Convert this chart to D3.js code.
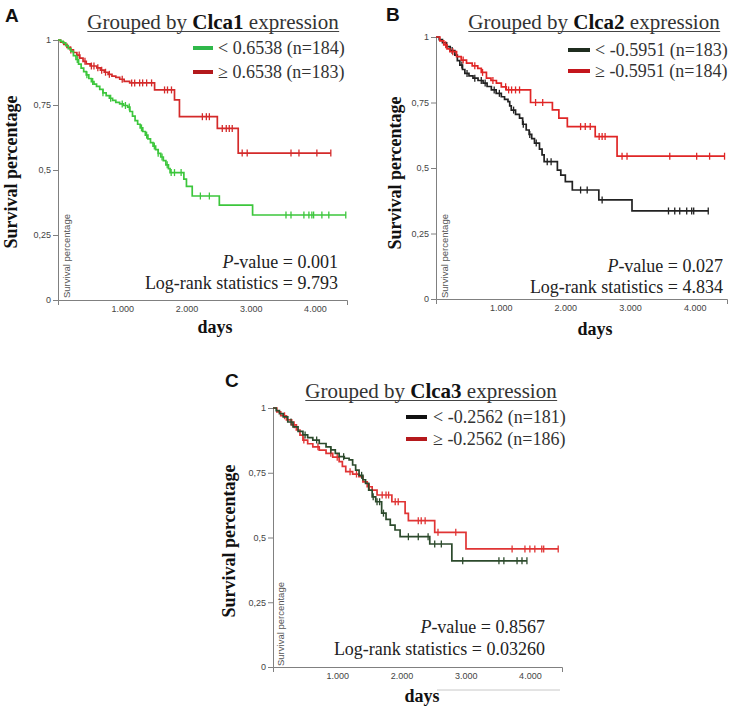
<!DOCTYPE html>
<html><head><meta charset="utf-8">
<script src="https://cdn.jsdelivr.net/npm/d3@7"></script>
<style>body{margin:0;background:#fff}svg{display:block}</style>
</head><body>
<script>
// ---------- DATA ----------
const xTicks = [1000, 2000, 3000, 4000];
const xTickLabels = ["1.000", "2.000", "3.000", "4.000"];
const yTicks = [0, 0.25, 0.5, 0.75, 1];
const yTickLabels = ["0", "0,25", "0,5", "0,75", "1"];
const panelLetters = ["A", "B", "C"];
const genes = ["Clca1", "Clca2", "Clca3"];
const lowLabels = ["< 0.6538 (n=184)", "< -0.5951 (n=183)", "< -0.2562 (n=181)"];
const highLabels = ["\u2265 0.6538 (n=183)", "\u2265 -0.5951 (n=184)", "\u2265 -0.2562 (n=186)"];
const pValues = ["0.001", "0.027", "0.8567"];
const logRankStats = ["9.793", "4.834", "0.03260"];

// Kaplan-Meier steps [day, survival]
const clca1LowSteps = [[0,1],[40,0.995],[80,0.989],[120,0.978],[160,0.967],[200,0.956],[240,0.94],[280,0.925],[320,0.907],[360,0.892],[400,0.878],[440,0.866],[480,0.852],[520,0.84],[560,0.83],[600,0.822],[650,0.81],[700,0.797],[750,0.786],[800,0.776],[850,0.768],[900,0.76],[960,0.754],[1020,0.748],[1085,0.742],[1120,0.725],[1160,0.707],[1200,0.69],[1240,0.676],[1280,0.662],[1320,0.648],[1360,0.634],[1400,0.62],[1440,0.605],[1480,0.592],[1520,0.578],[1560,0.564],[1600,0.55],[1640,0.536],[1680,0.52],[1720,0.505],[1745,0.49],[1960,0.465],[2000,0.437],[2090,0.4],[2512,0.365],[3030,0.327],[4481,0.327]];
const clca1LowCensor = [300,450,540,700,820,1000,1050,1110,1300,1380,1500,1560,1620,1700,1762,1814,1917,2217,2357,3550,3628,3829,3907,3953,3980,4109,4217,4481];
const clca1HighSteps = [[0,1],[40,0.992],[90,0.983],[140,0.972],[190,0.962],[240,0.952],[294,0.942],[340,0.93],[390,0.918],[440,0.908],[500,0.9],[604,0.893],[660,0.884],[720,0.876],[780,0.868],[840,0.861],[900,0.856],[961,0.849],[1030,0.841],[1116,0.835],[1504,0.808],[1814,0.77],[1891,0.705],[2481,0.66],[2806,0.565],[4248,0.565]];
const clca1HighCensor = [200,330,420,520,560,620,680,740,800,1000,1147,1194,1271,1318,1380,1457,1659,1705,1767,2248,2310,2357,2558,2620,2667,2713,2868,2946,3628,3752,4031,4248];

const clca2LowSteps = [[0,1],[50,0.99],[100,0.978],[164,0.963],[220,0.948],[292,0.931],[330,0.91],[369,0.893],[410,0.876],[446,0.861],[510,0.852],[572,0.843],[650,0.834],[728,0.824],[790,0.811],[856,0.798],[930,0.785],[1010,0.772],[1060,0.762],[1113,0.753],[1140,0.737],[1164,0.721],[1230,0.705],[1292,0.69],[1340,0.667],[1395,0.645],[1440,0.628],[1480,0.612],[1523,0.595],[1600,0.572],[1640,0.55],[1672,0.524],[1877,0.492],[1930,0.473],[2000,0.448],[2108,0.416],[2518,0.378],[3031,0.336],[4210,0.336]];
const clca2LowCensor = [250,400,480,600,700,760,900,980,1200,1350,1450,1550,1720,1780,2236,2338,2569,3595,3692,3769,3877,3954,3985,4210];
const clca2HighSteps = [[0,1],[60,0.985],[120,0.97],[170,0.955],[215,0.944],[318,0.925],[390,0.912],[472,0.9],[560,0.89],[646,0.88],[700,0.865],[780,0.843],[850,0.834],[934,0.824],[1010,0.81],[1087,0.798],[1462,0.75],[1800,0.722],[1900,0.69],[2031,0.658],[2462,0.62],[2800,0.545],[4462,0.545]];
const clca2HighCensor = [150,260,420,600,720,880,1077,1123,1169,1230,1292,1540,1650,2236,2308,2385,2523,2569,2615,2877,2954,3615,4031,4231,4462];

const clca3LowSteps = [[0,1],[50,0.99],[100,0.978],[159,0.966],[230,0.946],[312,0.927],[390,0.91],[466,0.896],[540,0.886],[620,0.876],[720,0.863],[826,0.85],[900,0.838],[970,0.825],[1030,0.812],[1110,0.806],[1185,0.8],[1240,0.78],[1287,0.76],[1340,0.74],[1400,0.723],[1441,0.709],[1490,0.683],[1544,0.657],[1600,0.638],[1692,0.594],[1760,0.57],[1826,0.548],[1900,0.529],[1979,0.503],[2441,0.475],[2785,0.41],[3954,0.41]];
const clca3LowCensor = [280,500,680,900,1100,1380,1560,1620,1660,1720,2108,2262,2415,2518,2621,2954,3518,3595,3800,3877,3954];
const clca3HighSteps = [[0,1],[60,0.985],[120,0.97],[210,0.954],[290,0.935],[364,0.915],[420,0.895],[466,0.876],[540,0.862],[620,0.85],[720,0.837],[826,0.825],[930,0.81],[1030,0.793],[1080,0.775],[1133,0.754],[1240,0.745],[1338,0.735],[1400,0.715],[1467,0.696],[1544,0.683],[1620,0.664],[1851,0.638],[2057,0.593],[2108,0.565],[2518,0.52],[3005,0.456],[4441,0.456]];
const clca3HighCensor = [180,330,480,700,900,1000,1200,1300,1500,1700,1760,1800,1903,1950,2262,2308,2369,2569,2846,3723,3923,4000,4077,4185,4215,4441];

const lowColors = ["#3cc63c", "#222222", "#2c4a2c"];
const lowLegendColors = ["#2fb84a", "#1f2d1f", "#111111"];
const highColors = ["#d42a2a", "#e02626", "#e03434"];
const highLegendColors = ["#b3191c", "#c4161c", "#b5191c"];

// ---------- LAYOUT ----------
const layouts = [
  {x0:58, x1:347, yT:40, yB:300, titleX:213, titleY:29, legX1:193, legX2:213, legY:[48,72], legTX:218,
   statX:338, statY:[268,289], ylabX:17, ylabY:172, innerX:70, innerY:298, daysX:215, daysY:333, letX:5, letY:22},
  {x0:436, x1:727, yT:37, yB:299, titleX:594, titleY:29, legX1:568, legX2:590, legY:[50,71], legTX:595,
   statX:723, statY:[272,293], ylabX:401, ylabY:173, innerX:448, innerY:298, daysX:595, daysY:335, letX:386, letY:21},
  {x0:273, x1:562, yT:408, yB:667, titleX:431, titleY:398, legX1:406, legX2:427, legY:[417,439], legTX:433,
   statX:545, statY:[633,655], ylabX:235, ylabY:541, innerX:284, innerY:666, daysX:422, daysY:702, letX:225, letY:387}
];
const stepsLow = [clca1LowSteps, clca2LowSteps, clca3LowSteps];
const stepsHigh = [clca1HighSteps, clca2HighSteps, clca3HighSteps];
const censLow = [clca1LowCensor, clca2LowCensor, clca3LowCensor];
const censHigh = [clca1HighCensor, clca2HighCensor, clca3HighCensor];

const svg = d3.select("body").append("svg").attr("width", 736).attr("height", 707);
const serif = "'Liberation Serif', 'Times New Roman', serif";
const sans = "'Liberation Sans', Arial, sans-serif";

function survAt(steps, t) {
  let s = 1;
  for (const [d, v] of steps) { if (d <= t) s = v; else break; }
  return s;
}

layouts.forEach((L, i) => {
  const g = svg.append("g");
  const x = d3.scaleLinear().domain([0, 4500]).range([L.x0, L.x1]);
  const y = d3.scaleLinear().domain([0, 1]).range([L.yB, L.yT]);

  // axes
  const xa = g.append("g").attr("transform", `translate(0,${L.yB})`)
    .call(d3.axisBottom(x).tickValues(xTicks).tickFormat((d, k) => xTickLabels[k])
      .tickSizeInner(0).tickSizeOuter(5).tickPadding(6));
  const ya = g.append("g").attr("transform", `translate(${L.x0},0)`)
    .call(d3.axisLeft(y).tickValues(yTicks).tickFormat((d, k) => yTickLabels[k])
      .tickSizeInner(5).tickSizeOuter(5).tickPadding(2));
  [xa, ya].forEach(a => {
    a.selectAll("path,line").attr("stroke", "#808080");
    a.selectAll("text").attr("fill", "#444").style("font-family", sans).style("font-size", "9px");
  });

  // inner small axis label
  g.append("text").attr("transform", `translate(${L.innerX},${L.innerY}) rotate(-90)`)
    .attr("fill", "#555").style("font-family", sans).style("font-size", "9.5px").text("Survival percentage");

  // curves
  const line = d3.line().x(d => x(d[0])).y(d => y(d[1])).curve(d3.curveStepAfter);
  const series = [
    {steps: stepsLow[i], cens: censLow[i], color: lowColors[i]},
    {steps: stepsHigh[i], cens: censHigh[i], color: highColors[i]}
  ];
  if (i !== 1) series.reverse(); // draw order
  series.forEach(s => {
    g.append("path").datum(s.steps).attr("d", line).attr("fill", "none")
      .attr("stroke", s.color).attr("stroke-width", 1.7);
    g.selectAll(null).data(s.cens).enter().append("line")
      .attr("x1", d => x(d)).attr("x2", d => x(d))
      .attr("y1", d => y(survAt(s.steps, d)) - 3.5).attr("y2", d => y(survAt(s.steps, d)) + 3.5)
      .attr("stroke", s.color).attr("stroke-width", 1.3);
  });

  // title with underline
  const t = g.append("text").attr("x", L.titleX).attr("y", L.titleY).attr("text-anchor", "middle")
    .attr("fill", "#333").style("font-family", serif).style("font-size", "21px");
  t.append("tspan").text("Grouped by ");
  t.append("tspan").attr("font-weight", "bold").attr("fill", "#111").text(genes[i]);
  t.append("tspan").text(" expression");
  const bb = t.node().getBBox();
  g.append("line").attr("x1", bb.x).attr("x2", bb.x + bb.width)
    .attr("y1", L.titleY + 2.5).attr("y2", L.titleY + 2.5).attr("stroke", "#444").attr("stroke-width", 1);

  // legend
  [[lowLabels[i], lowLegendColors[i]], [highLabels[i], highLegendColors[i]]].forEach(([lab, c], k) => {
    g.append("line").attr("x1", L.legX1).attr("x2", L.legX2).attr("y1", L.legY[k]).attr("y2", L.legY[k])
      .attr("stroke", c).attr("stroke-width", 4);
    g.append("text").attr("x", L.legTX).attr("y", L.legY[k] + 6).attr("fill", "#333")
      .style("font-family", serif).style("font-size", "18px").text(lab);
  });

  // stats
  const p = g.append("text").attr("x", L.statX).attr("y", L.statY[0]).attr("text-anchor", "end")
    .attr("fill", "#222").style("font-family", serif).style("font-size", "18px");
  p.append("tspan").attr("font-style", "italic").text("P");
  p.append("tspan").text("-value = " + pValues[i]);
  g.append("text").attr("x", L.statX).attr("y", L.statY[1]).attr("text-anchor", "end")
    .attr("fill", "#222").style("font-family", serif).style("font-size", "18px")
    .text("Log-rank statistics = " + logRankStats[i]);

  // y label
  g.append("text").attr("transform", `translate(${L.ylabX},${L.ylabY}) rotate(-90)`).attr("text-anchor", "middle")
    .attr("fill", "#111").attr("font-weight", "bold").style("font-family", serif).style("font-size", "18px")
    .text("Survival percentage");
  // x label
  g.append("text").attr("x", L.daysX).attr("y", L.daysY).attr("text-anchor", "middle")
    .attr("fill", "#111").attr("font-weight", "bold").style("font-family", serif).style("font-size", "18px")
    .text("days");
  // panel letter
  g.append("text").attr("x", L.letX).attr("y", L.letY).attr("fill", "#111").attr("font-weight", "bold")
    .style("font-family", sans).style("font-size", "19px").text(panelLetters[i]);
});

// faint line under panel C x-axis label
svg.append("line").attr("x1", 437).attr("x2", 560).attr("y1", 690).attr("y2", 690)
  .attr("stroke", "#c8c8c8").attr("stroke-width", 1);
</script>
</body></html>
